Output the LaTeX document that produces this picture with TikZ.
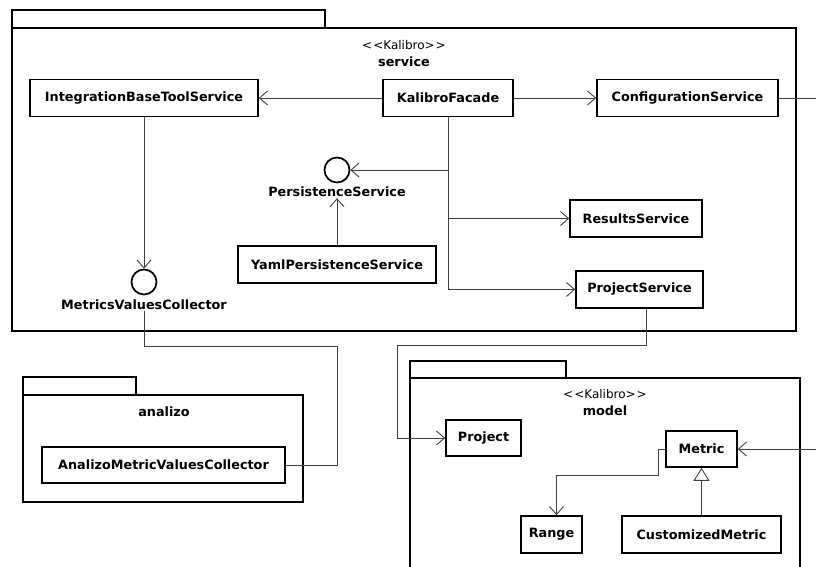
\documentclass[tikz,border=0pt]{standalone}
\usepackage{fontspec}
\setmainfont{DejaVu Sans}
\usetikzlibrary{arrows.meta}
\begin{document}
\begin{tikzpicture}[x=1pt,y=-1pt,
  cls/.style={draw,line width=1.7pt,rectangle,inner sep=0pt,font=\fontsize{12.8}{14}\selectfont\bfseries},
  lbl/.style={inner sep=1pt,font=\fontsize{12.8}{14}\selectfont\bfseries},
  stereo/.style={inner sep=1pt,font=\fontsize{12}{13}\selectfont},
  iface/.style={draw,line width=1.7pt,circle,inner sep=0pt,minimum size=25pt},
  pkg/.style={draw,line width=1.7pt},
  conn/.style={draw=black!75,line width=0.9pt},
  arr/.style={conn,-{Straight Barb[length=8pt,width=14pt,line width=0.9pt]}},
  gen/.style={conn,-{Triangle[open,length=13pt,width=16pt,line width=0.9pt]}}]
\useasboundingbox (0,0) rectangle (816,567);
% packages
\draw[pkg] (12,28) -- (12,10) -- (325,10) -- (325,28);
\draw[pkg] (12,28) rectangle (796,331);
\draw[pkg] (23,395) -- (23,377) -- (136,377) -- (136,395);
\draw[pkg] (23,395) rectangle (303,502);
\draw[pkg] (410,378) -- (410,361) -- (566,361) -- (566,378);
\draw[pkg] (410,570) -- (410,378) -- (800,378) -- (800,570);
\node[stereo] (svcst) at (404,45) {{<}\kern1pt{<}Kalibro{>}\kern1pt{>}};
\node[lbl] (svcname) at (404,62) {service};
\node[lbl] (analizoname) at (164,412) {analizo};
\node[stereo] (modst) at (605,394) {{<}\kern1pt{<}Kalibro{>}\kern1pt{>}};
\node[lbl] (modname) at (605,411) {model};
% classes
\node[cls,minimum width=228,minimum height=37] (ibts) at (144,98) {IntegrationBaseToolService};
\node[cls,minimum width=130,minimum height=37] (kf) at (448,98) {KalibroFacade};
\node[cls,minimum width=181,minimum height=37] (cs) at (687.5,98) {ConfigurationService};
\node[cls,minimum width=132,minimum height=37] (rs) at (636,218.5) {ResultsService};
\node[cls,minimum width=127,minimum height=37] (prs) at (639.5,289.5) {ProjectService};
\node[cls,minimum width=198,minimum height=37] (yaml) at (337,264.5) {YamlPersistenceService};
\node[iface] (psc) at (337,170) {};
\node[lbl] (psl) at (337,192) {PersistenceService};
\node[iface] (mvc) at (144,282) {};
\node[lbl] (mvcl) at (144,305) {MetricsValuesCollector};
\node[cls,minimum width=243,minimum height=36] (amvc) at (163.5,465) {AnalizoMetricValuesCollector};
\node[cls,minimum width=75,minimum height=36] (proj) at (483.5,438) {Project};
\node[cls,minimum width=71,minimum height=36] (met) at (701.5,449) {Metric};
\node[cls,minimum width=61,minimum height=37] (range) at (551.5,534.5) {Range};
\node[cls,minimum width=159,minimum height=37] (cm) at (701.5,534.5) {CustomizedMetric};
% helper coordinates
\coordinate (c1) at (337,346);
\coordinate (c2) at (397,345);
\coordinate (c3) at (658,475);
\coordinate (e1) at (816,98);
\coordinate (e2) at (816,449);
% connectors
\draw[arr] (kf.west) -- (ibts.east);
\draw[arr] (kf.east) -- (cs.west);
\draw[conn] (cs.east) -- (e1);
\draw[arr] (kf.south) |- (psc.east);
\draw[arr] (kf.south) |- (rs.west);
\draw[arr] (kf.south) |- (prs.west);
\draw[arr] (yaml.north) -- (psl.south);
\draw[arr] (ibts.south) -- (mvc.north);
\draw[conn] (mvcl.south) |- (c1) |- (amvc.east);
\draw[arr] ([xshift=7pt]prs.south) |- (c2) |- (proj.west);
\draw[arr] (e2) -- (met.east);
\draw[arr] (met.west) -| (c3) -| ([xshift=5pt]range.north);
\draw[gen] (cm.north) -- (met.south);
\end{tikzpicture}
\end{document}
